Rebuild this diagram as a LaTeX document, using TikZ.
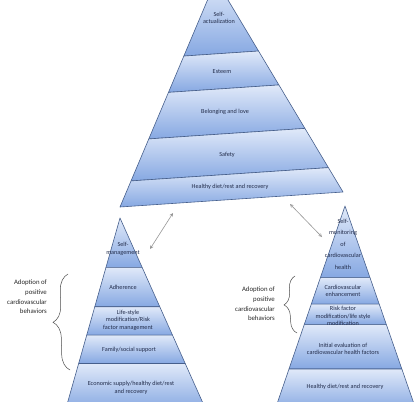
\documentclass[tikz,border=0pt]{standalone}
\usepackage{fontspec}
\setmainfont{Carlito}
\usetikzlibrary{calc,decorations.pathreplacing}
\definecolor{bandtop}{RGB}{224,233,249}
\definecolor{bandbot}{RGB}{134,168,226}
\definecolor{bandline}{RGB}{70,95,140}
\definecolor{labeltext}{RGB}{35,45,75}
\definecolor{linkgray}{RGB}{150,150,150}
\tikzset{
	band/.style={top color=bandtop, bottom color=bandbot, draw=bandline, line width=0.6pt, line join=round},
	lvl/.style={font=\fontsize{6.2}{7.5}\selectfont, text=labeltext, align=center, inner sep=0pt},
	sidenote/.style={font=\fontsize{6.8}{9.6}\selectfont, text=black!85, align=right, inner sep=0pt},
	curly/.style={decorate, decoration={brace, amplitude=#1}, line width=0.5pt, draw=black!70},
	link/.style={<->, >=stealth, draw=linkgray, line width=0.6pt},
}
\begin{document}
\begin{tikzpicture}[x=1pt, y=-1pt, line cap=round]
	\useasboundingbox (0,0) rectangle (414,401);
	\clip (0,0) rectangle (414,401);
	% top pyramid
	\coordinate (Ta) at (216,-20);
	\coordinate (Tl) at (120,207);
	\coordinate (Tr) at (343,192);
	\foreach \s/\e in {0/0.335, 0.335/0.495, 0.495/0.70, 0.70/0.885, 0.885/1}
		\shadedraw[band] ($(Ta)!\s!(Tl)$) -- ($(Ta)!\e!(Tl)$) -- ($(Ta)!\e!(Tr)$) -- ($(Ta)!\s!(Tr)$) -- cycle;
	\node[lvl] (selfact) at (219,18) {Self-\\actualization};
	\node[lvl] (esteem) at (222,72) {Esteem};
	\node[lvl] (belong) at (225,112) {Belonging and love};
	\node[lvl] (safety) at (227,155) {Safety};
	\node[lvl] (topbase) at (230,187) {Healthy diet/rest and recovery};
	% left pyramid
	\coordinate (La) at (120,218);
	\coordinate (Ll) at (68,401);
	\coordinate (Lr) at (202,401);
	\foreach \s/\e in {0/0.27, 0.27/0.485, 0.485/0.64, 0.64/0.795, 0.795/1.05}
		\shadedraw[band] ($(La)!\s!(Ll)$) -- ($(La)!\e!(Ll)$) -- ($(La)!\e!(Lr)$) -- ($(La)!\s!(Lr)$) -- cycle;
	\node[lvl] (selfman) at (123,249) {Self-\\management};
	\node[lvl] (adher) at (123,287) {Adherence};
	\node[lvl] (lifestyle) at (128,320) {Life-style\\modification/Risk\\factor management};
	\node[lvl] (family) at (129,350) {Family/social support};
	\node[lvl] (econ) at (131,388) {Economic supply/healthy diet/rest\\and recovery};
	% right pyramid
	\coordinate (Ra) at (345,206);
	\coordinate (Rl) at (278,401);
	\coordinate (Rr) at (413,401);
	\foreach \s/\e in {0/0.367, 0.367/0.503, 0.503/0.608, 0.608/0.836, 0.836/1.05}
		\shadedraw[band] ($(Ra)!\s!(Rl)$) -- ($(Ra)!\e!(Rl)$) -- ($(Ra)!\e!(Rr)$) -- ($(Ra)!\s!(Rr)$) -- cycle;
	\node[lvl, font=\fontsize{6.2}{11.5}\selectfont] (selfmon) at (343,244) {Self-\\monitoring\\of\\cardiovascular\\health};
	\node[lvl] (enhance) at (343,291) {Cardiovascular\\enhancement};
	\node[lvl] (riskmod) at (343,316) {Risk factor\\modification/life style\\modification};
	\node[lvl] (initeval) at (343,349) {Initial evaluation of\\cardiovascular health factors};
	\node[lvl] (rightbase) at (345,387) {Healthy diet/rest and recovery};
	% braces and notes
	\coordinate (lbtop) at (68,274);
	\coordinate (lbbot) at (70,370);
	\draw[curly=16pt] (lbbot) -- (lbtop);
	\node[sidenote, anchor=east] (leftnote) at (47,297) {Adoption of\\positive\\cardiovascular\\behaviors};
	\coordinate (rbtop) at (295,276);
	\coordinate (rbbot) at (297,333);
	\draw[curly=12pt] (rbbot) -- (rbtop);
	\node[sidenote, anchor=east] (rightnote) at (275,304) {Adoption of\\positive\\cardiovascular\\behaviors};
	% links between pyramids
	\coordinate (lA) at (173,213);
	\coordinate (lB) at (150,249);
	\draw[link] (lA) -- (lB);
	\coordinate (rA) at (290,204);
	\coordinate (rB) at (322,237);
	\draw[link] (rA) -- (rB);
\end{tikzpicture}
\end{document}
